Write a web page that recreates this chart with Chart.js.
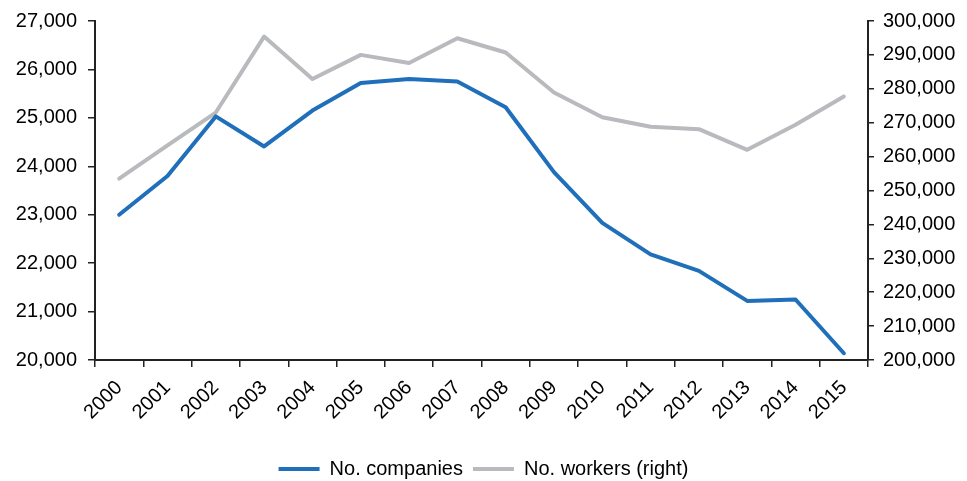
<!DOCTYPE html>
<html>
<head>
<meta charset="utf-8">
<script src="https://cdn.jsdelivr.net/npm/chart.js@4/dist/chart.umd.min.js"></script>
<style>
  html, body { margin: 0; padding: 0; background: #fff; }
  #wrap { width: 967px; height: 481px; position: relative; }
</style>
</head>
<body>
<div id="wrap"><canvas id="c"></canvas></div>
<script>
const years = ['2000','2001','2002','2003','2004','2005','2006','2007','2008','2009','2010','2011','2012','2013','2014','2015'];
const companies = [23000, 23800, 25030, 24410, 25150, 25720, 25800, 25750, 25220, 23880, 22830, 22180, 21840, 21220, 21250, 20140];
const workers = [253500, 263300, 273000, 295400, 282900, 290000, 287600, 294900, 290700, 278900, 271600, 268800, 268100, 262000, 269400, 277700];
const leftTicks = { min: 20000, max: 27000, step: 1000 };
const rightTicks = { min: 200000, max: 300000, step: 10000 };

const FONT = '"Liberation Sans", Arial, Helvetica, sans-serif';
const FS = 20;
const fmt = v => Number(v).toLocaleString('en-US');

new Chart(document.getElementById('c'), {
  type: 'line',
  data: {
    labels: years,
    datasets: [
      { label: 'No. companies', data: companies, yAxisID: 'y', borderColor: '#1f6fba', backgroundColor: '#1f6fba',
        borderWidth: 4, pointRadius: 0, tension: 0, borderCapStyle: 'round', borderJoinStyle: 'round' },
      { label: 'No. workers (right)', data: workers, yAxisID: 'y1', borderColor: '#b8babd', backgroundColor: '#b8babd',
        borderWidth: 4, pointRadius: 0, tension: 0, borderCapStyle: 'round', borderJoinStyle: 'round' }
    ]
  },
  options: {
    responsive: true,
    maintainAspectRatio: false,
    animation: false,
    devicePixelRatio: 1,
    layout: { padding: { top: 0, bottom: -8, left: 0, right: 0 } },
    plugins: {
      tooltip: { enabled: false },
      legend: {
        position: 'bottom',
        labels: {
          usePointStyle: true,
          pointStyle: 'line',
          pointStyleWidth: 41,
          boxWidth: 41,
          boxHeight: 4,
          padding: 10,
          color: '#000',
          font: { family: FONT, size: FS, lineHeight: 1.0 }
        }
      }
    },
    scales: {
      x: {
        offset: true,
        afterFit: s => { s.height = 89; },
        grid: { offset: true, drawOnChartArea: false, drawTicks: true, tickLength: 7, color: '#222', lineWidth: 1.5 },
        border: { display: true, color: '#222', width: 2 },
        ticks: { color: '#000', font: { family: FONT, size: FS }, maxRotation: 45, minRotation: 45, autoSkip: false, padding: 9 }
      },
      y: {
        position: 'left',
        min: leftTicks.min, max: leftTicks.max,
        afterFit: s => { s.width = 95; },
        grid: { drawOnChartArea: false, drawTicks: true, tickLength: 7, color: '#222', lineWidth: 1.5 },
        border: { display: true, color: '#222', width: 2 },
        ticks: { stepSize: leftTicks.step, color: '#000', font: { family: FONT, size: FS, lineHeight: 1.0 }, padding: 11, callback: fmt }
      },
      y1: {
        position: 'right',
        min: rightTicks.min, max: rightTicks.max,
        afterFit: s => { s.width = 99; },
        grid: { drawOnChartArea: false, drawTicks: true, tickLength: 6, color: '#222', lineWidth: 1.5 },
        border: { display: true, color: '#222', width: 2 },
        ticks: { stepSize: rightTicks.step, color: '#000', font: { family: FONT, size: FS, lineHeight: 1.0 }, padding: 9, callback: fmt }
      }
    }
  }
});
</script>
</body>
</html>
